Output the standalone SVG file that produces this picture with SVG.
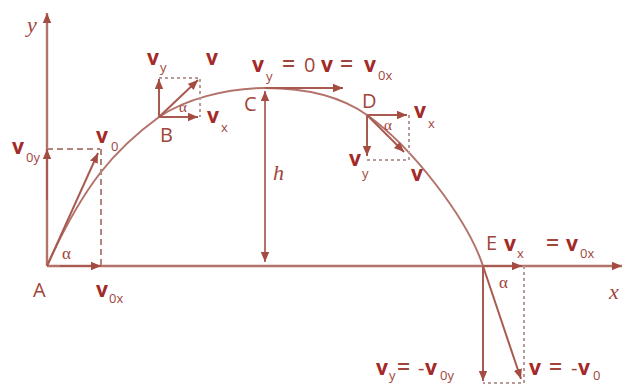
<svg xmlns="http://www.w3.org/2000/svg" width="622" height="385" viewBox="0 0 622 385">
<defs>
<marker id="ah" markerUnits="userSpaceOnUse" markerWidth="12" markerHeight="10" refX="10" refY="5" orient="auto">
<path d="M0,0.8 L10,5 L0,9.2 Z" fill="#a44b42"/>
</marker>
<marker id="ahs" markerUnits="userSpaceOnUse" markerWidth="12" markerHeight="10" refX="0" refY="5" orient="auto">
<path d="M10,0.8 L0,5 L10,9.2 Z" fill="#a44b42"/>
</marker>
</defs>
<style>
.ln{stroke:#b3726a;stroke-width:2;fill:none}
.ax{stroke:#b3726a;stroke-width:2.4;fill:none}
.vec{stroke:#a85a50;stroke-width:2;fill:none;marker-end:url(#ah)}
.dash{stroke:#b3847e;stroke-width:2;fill:none;stroke-dasharray:6,4}
.dot{stroke:#b89a96;stroke-width:2;fill:none;stroke-dasharray:3,3}
.t{font-family:"Open Sans","Liberation Sans",sans-serif;font-size:20px;fill:#a0453b}
.eq{font-family:"Open Sans","Liberation Sans",sans-serif;font-size:23px;font-weight:600;fill:#a0453b}
.v{font-family:"Open Sans","Liberation Sans",sans-serif;font-size:21px;font-weight:bold;fill:#a32a28}
.s{font-family:"Open Sans","Liberation Sans",sans-serif;font-size:13px;fill:#a0453b}
.i{font-family:"Liberation Serif",serif;font-style:italic;font-size:22px;fill:#a0453b}
.a{font-family:"Liberation Serif",serif;font-size:17px;fill:#a0453b}
</style>
<rect width="622" height="385" fill="#ffffff"/>
<g id="connectors">
<path class="ax" d="M47,266 L47,13" marker-end="url(#ah)"/>
<path class="ax" d="M47,266 L622,266" marker-end="url(#ah)"/>
<path id="trajectory" class="ln" d="M47,266 C84,184 115,149 159,117 C184,100 225,88 265,88 C315,88 346,100 367,115 C412,147 467,218 483,266"/>
<path class="dash" d="M47,149 L100,149 M101,149 L101,266"/>
<path class="vec" d="M47,266 L98,153"/>
<path class="vec" d="M47,200 L47,149"/>
<path class="vec" d="M60,266 L101,266"/>
<path class="dot" d="M159,78 L200,78 L200,117"/>
<path class="vec" d="M159,117 L159,79"/>
<path class="vec" d="M159,117 L198,117"/>
<path class="vec" d="M159,117 L198,80"/>
<path class="vec" d="M265,88 L343,88"/>
<path class="ln" d="M265,91 L265,262" marker-start="url(#ahs)" marker-end="url(#ah)"/>
<path class="dot" d="M367,160 L409,160 L409,115"/>
<path class="vec" d="M367,115 L407,115"/>
<path class="vec" d="M367,115 L367,156"/>
<path class="vec" d="M367,115 L404,152"/>
<path class="dot" d="M524,266 L524,383 L483,383"/>
<path class="vec" d="M483,266 L522,266"/>
<path class="vec" d="M483,266 L483,381"/>
<path class="vec" d="M483,266 L521,379"/>
</g>
<g id="axis-labels">
<text class="i" x="27" y="32">y</text>
<text class="i" x="609" y="299">x</text>
</g>
<g id="node-A">
<text class="t" x="33" y="297">A</text>
<text class="a" x="62" y="259">α</text>
<text class="v" x="96" y="297">v</text><text class="s" x="109" y="303">0x</text>
<text class="v" x="12" y="154">v</text><text class="s" x="26" y="162">0y</text>
<text class="v" x="96" y="143">v</text><text class="s" x="111" y="151">0</text>
</g>
<g id="node-B">
<text class="t" x="160" y="142">B</text>
<text class="a" x="179" y="112" style="font-size:15px">α</text>
<text class="v" x="147" y="65">v</text><text class="s" x="160" y="72">y</text>
<text class="v" x="206" y="65">v</text>
<text class="v" x="207" y="123">v</text><text class="s" x="221" y="132">x</text>
</g>
<g id="node-C">
<text class="t" x="244" y="111">C</text>
<text class="i" x="273" y="180">h</text>
<text class="v" x="252" y="72">v</text><text class="s" x="266" y="81">y</text>
<text class="eq" x="282" y="72">=</text>
<text class="t" x="304" y="72">0</text>
<text class="v" x="321" y="72">v</text>
<text class="eq" x="340" y="72">=</text>
<text class="v" x="364" y="72">v</text><text class="s" x="378" y="80">0x</text>
</g>
<g id="node-D">
<text class="t" x="362" y="108">D</text>
<text class="a" x="384" y="130" style="font-size:15px">α</text>
<text class="v" x="414" y="118">v</text><text class="s" x="428" y="128">x</text>
<text class="v" x="349" y="166">v</text><text class="s" x="362" y="178">y</text>
<text class="v" x="411" y="181">v</text>
</g>
<g id="node-E">
<text class="t" x="486" y="250">E</text>
<text class="v" x="504" y="251">v</text><text class="s" x="517" y="258">x</text>
<text class="eq" x="546" y="251">=</text>
<text class="v" x="566" y="251">v</text><text class="s" x="580" y="258">0x</text>
<text class="a" x="499" y="288">α</text>
<text class="v" x="376" y="375">v</text><text class="s" x="389" y="380">y</text>
<text class="eq" x="397" y="375">=</text>
<text class="t" x="418" y="375">-</text><text class="v" x="425" y="375">v</text><text class="s" x="440" y="380">0y</text>
<text class="v" x="529" y="375">v</text>
<text class="eq" x="549" y="375">=</text>
<text class="t" x="571" y="375">-</text><text class="v" x="578" y="375">v</text><text class="s" x="593" y="380">0</text>
</g>
</svg>
